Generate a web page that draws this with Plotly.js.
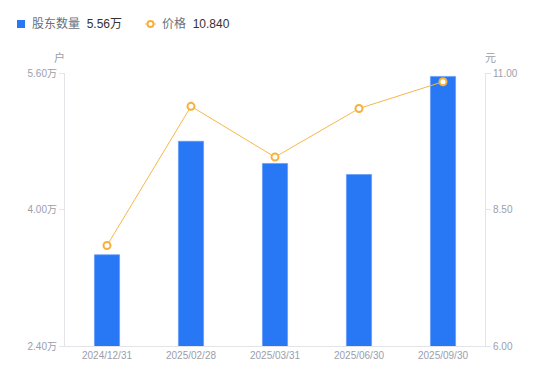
<!DOCTYPE html>
<html>
<head>
<meta charset="utf-8">
<script src="https://cdn.plot.ly/plotly-3.0.1.min.js"></script>
<style>html,body{margin:0;padding:0;background:#fff;}#chart{width:550px;height:381px;}</style>
</head>
<body>
<div id="chart"></div>
<script>
const categories = ["2024/12/31", "2025/02/28", "2025/03/31", "2025/06/30", "2025/09/30"];
const holders = [3.47, 4.80, 4.54, 4.41, 5.56];       // 股东数量 (万户)
const prices = [7.84, 10.39, 9.46, 10.35, 10.84];     // 价格 (元)
const leftTicks = [2.40, 4.00, 5.60];
const leftTickText = ["2.40万", "4.00万", "5.60万"];
const rightTicks = [6.00, 8.50, 11.00];
const rightTickText = ["6.00", "8.50", "11.00"];
const holderName = "股东数量";
const priceName = "价格";
const holderLatest = "5.56万";
const priceLatest = "10.840";

const FONT = "Liberation Sans, Arial, 'Noto Sans CJK SC', sans-serif";
const AXIS_C = "#e3e4e8";
const TICK_C = "#9b9eab";
const BAR_C = "#2878f6";
const LINE_C = "#f7b84b";
const MARK_C = "#f7b03c";

// plot box (for converting legend pixel placement into paper units)
const M = {l: 65, r: 65, t: 73, b: 35};
const W = 550, H = 381;
const pw = W - M.l - M.r, ph = H - M.t - M.b;
const px = v => (v - M.l) / pw;
const py = v => (H - M.b - v) / ph;

const traces = [
  {
    type: "bar",
    x: categories,
    y: holders,
    name: holderName,
    marker: {color: BAR_C, line: {color: "#5d97f8", width: 0.6}},
    width: 0.3,
    yaxis: "y"
  },
  {
    type: "scatter",
    mode: "lines+markers",
    x: categories,
    y: prices,
    name: priceName,
    line: {color: LINE_C, width: 1},
    marker: {symbol: "circle", size: 7, color: "#ffffff", line: {color: MARK_C, width: 2}},
    yaxis: "y2"
  }
];

const legY = 24;
const layout = {
  width: W,
  height: H,
  margin: M,
  paper_bgcolor: "#ffffff",
  plot_bgcolor: "#ffffff",
  font: {family: FONT, size: 10, color: TICK_C},
  showlegend: false,
  xaxis: {
    type: "category",
    showgrid: false,
    zeroline: false,
    showline: true,
    linecolor: AXIS_C,
    linewidth: 1,
    ticks: "",
    tickfont: {family: FONT, size: 10, color: TICK_C},
    fixedrange: true
  },
  yaxis: {
    range: [2.40, 5.60],
    tickvals: leftTicks,
    ticktext: leftTickText,
    showgrid: false,
    zeroline: false,
    showline: true,
    linecolor: AXIS_C,
    linewidth: 1,
    ticks: "outside",
    ticklen: 5,
    tickcolor: AXIS_C,
    tickfont: {family: FONT, size: 10, color: TICK_C},
    fixedrange: true
  },
  yaxis2: {
    overlaying: "y",
    side: "right",
    range: [6.00, 11.00],
    tickvals: rightTicks,
    ticktext: rightTickText,
    showgrid: false,
    zeroline: false,
    showline: true,
    linecolor: AXIS_C,
    linewidth: 1,
    ticks: "outside",
    ticklen: 5,
    tickcolor: AXIS_C,
    tickfont: {family: FONT, size: 10, color: TICK_C},
    fixedrange: true
  },
  shapes: [
    {type: "rect", xref: "paper", yref: "paper",
     x0: px(17), x1: px(25), y0: py(28), y1: py(20),
     fillcolor: BAR_C, line: {width: 0}},
    {type: "line", xref: "paper", yref: "paper",
     x0: px(145), x1: px(156), y0: py(legY), y1: py(legY),
     line: {color: LINE_C, width: 1}},
    {type: "circle", xref: "paper", yref: "paper",
     x0: px(147.5), x1: px(153.5), y0: py(legY + 3), y1: py(legY - 3),
     fillcolor: "#ffffff", line: {color: MARK_C, width: 2}}
  ],
  annotations: [
    {text: holderName + "  <span style='color:#333333'>" + holderLatest + "</span>",
     xref: "paper", yref: "paper", x: px(30), y: py(legY),
     xanchor: "left", yanchor: "middle", showarrow: false,
     font: {family: FONT, size: 12, color: "#6b6f7a"}},
    {text: priceName + "  <span style='color:#333333'>" + priceLatest + "</span>",
     xref: "paper", yref: "paper", x: px(160), y: py(legY),
     xanchor: "left", yanchor: "middle", showarrow: false,
     font: {family: FONT, size: 12, color: "#6b6f7a"}},
    {text: "户", xref: "paper", yref: "paper", x: 0, y: 1, xshift: -6, yshift: 16,
     xanchor: "center", yanchor: "middle", showarrow: false,
     font: {family: "Noto Sans CJK SC, sans-serif", size: 11, color: TICK_C}},
    {text: "元", xref: "paper", yref: "paper", x: 1, y: 1, xshift: 5, yshift: 16,
     xanchor: "center", yanchor: "middle", showarrow: false,
     font: {family: "Noto Sans CJK SC, sans-serif", size: 11, color: TICK_C}}
  ]
};

Plotly.newPlot("chart", traces, layout, {displayModeBar: false, staticPlot: true});
</script>
</body>
</html>
